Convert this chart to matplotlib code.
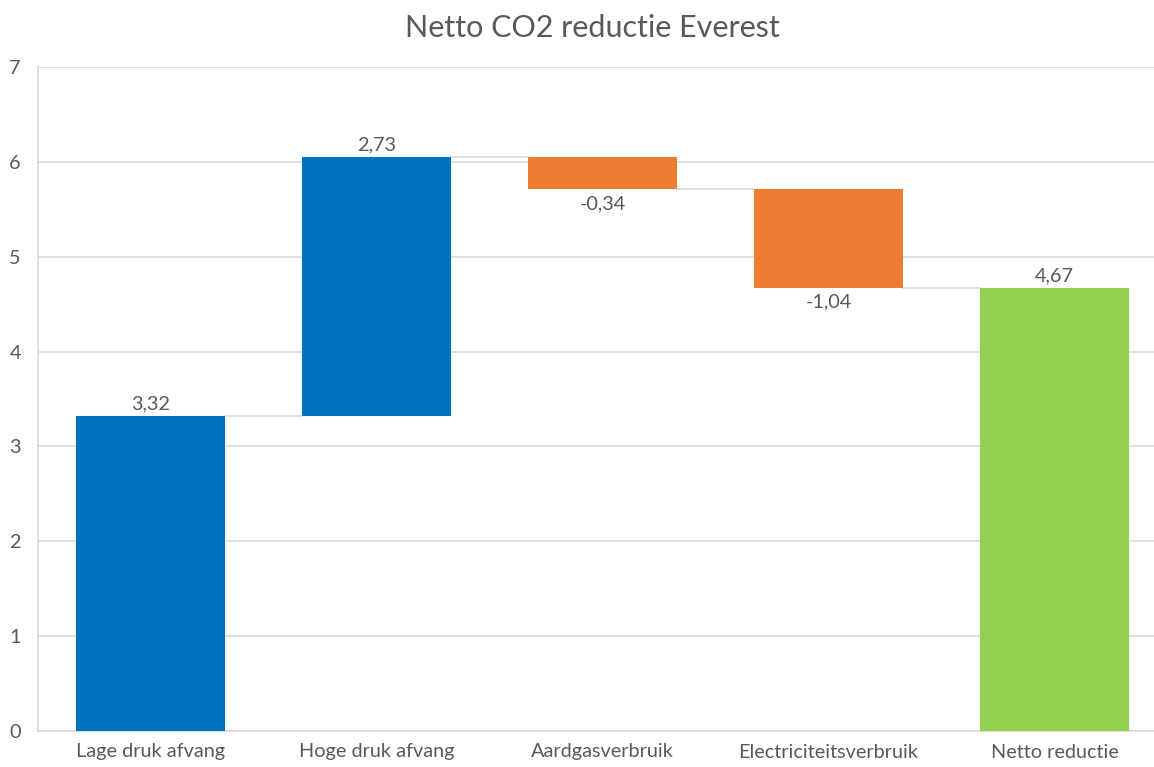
import matplotlib
matplotlib.use("Agg")
import matplotlib.pyplot as plt

categories = ["Lage druk afvang", "Hoge druk afvang", "Aardgasverbruik",
              "Electriciteitsverbruik", "Netto reductie"]
changes = [3.32, 2.73, -0.34, -1.04, 4.67]
labels = ["3,32", "2,73", "-0,34", "-1,04", "4,67"]
is_total = [False, False, False, False, True]

blue = "#0070C0"
orange = "#ED7D31"
green = "#92D050"
grey_txt = "#595959"

plt.rcParams["font.family"] = ["Lato", "DejaVu Sans"]

fig = plt.figure(figsize=(11.54, 7.67), dpi=100)
ax = fig.add_axes([37.5 / 1154, 1 - 731 / 767, 1130 / 1154, 664 / 767])

# running totals
bottoms = []
tops = []
running = 0
for ch, tot in zip(changes, is_total):
    if tot:
        bottoms.append(0)
        tops.append(ch)
        running = ch
    else:
        start = running
        running = running + ch
        bottoms.append(min(start, running))
        tops.append(max(start, running))

colors = []
for ch, tot in zip(changes, is_total):
    if tot:
        colors.append(green)
    elif ch >= 0:
        colors.append(blue)
    else:
        colors.append(orange)

x = list(range(len(categories)))
width = 0.66
heights = [t - b for t, b in zip(tops, bottoms)]
ax.bar(x, heights, bottom=bottoms, width=width, color=colors, zorder=3)

# connector lines
level = 0
for i in range(len(categories) - 1):
    if is_total[i]:
        level = changes[i]
    else:
        level = level + changes[i]
    ax.plot([i + width / 2, i + 1 - width / 2], [level, level],
            color="#D9D9D9", lw=1.2, zorder=2)

# value labels
for i, (ch, tot) in enumerate(zip(changes, is_total)):
    if ch >= 0:
        ax.text(i, tops[i] + 0.04, labels[i], ha="center", va="bottom",
                fontsize=14.3, color=grey_txt)
    else:
        ax.text(i, bottoms[i] - 0.06, labels[i], ha="center", va="top",
                fontsize=14.3, color=grey_txt)

ax.set_xlim(-0.5, len(categories) - 0.5)
ax.set_ylim(0, 7)
ax.set_xticks(x)
ax.set_xticklabels(categories, fontsize=14.3, color=grey_txt)
ax.set_yticks(range(0, 8))
ax.tick_params(axis="y", labelsize=14.3, labelcolor=grey_txt, length=0, pad=12)
ax.tick_params(axis="x", length=0, pad=9)
ax.grid(axis="y", color="#D9D9D9", lw=1.2, zorder=0)
for s in ["top", "right"]:
    ax.spines[s].set_visible(False)
ax.spines["left"].set_color("#D9D9D9")
ax.spines["bottom"].set_color("#D9D9D9")
ax.spines["left"].set_linewidth(1.2)
ax.spines["bottom"].set_linewidth(1.2)

fig.text(592 / 1154, 1 - 28 / 767, "Netto CO2 reductie Everest", ha="center",
         va="center", fontsize=22, color=grey_txt)

fig.savefig("out.png", dpi=100)
